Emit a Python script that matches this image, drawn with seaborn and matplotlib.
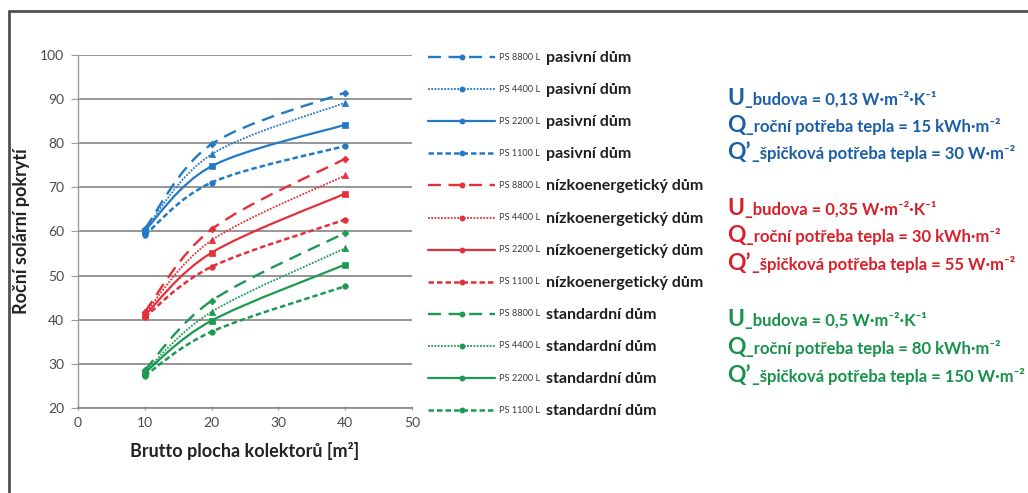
import matplotlib
matplotlib.use("Agg")
import matplotlib.pyplot as plt
from matplotlib.path import Path
from matplotlib.patches import PathPatch
from matplotlib.lines import Line2D
import seaborn as sns
import pandas as pd

sns.set_theme(style="white")
plt.rcParams["font.family"] = ["Lato", "DejaVu Sans"]

# ---- data -------------------------------------------------------------
area = [10, 20, 40]  # brutto plocha kolektorů [m2]
tanks = ["PS 8800 L", "PS 4400 L", "PS 2200 L", "PS 1100 L"]
houses = ["pasivní dům", "nízkoenergetický dům", "standardní dům"]

pasivni_8800 = [60.6, 79.8, 91.5]
pasivni_4400 = [60.4, 77.5, 89.2]
pasivni_2200 = [60.2, 74.8, 84.2]
pasivni_1100 = [59.2, 71.1, 79.4]

nizko_8800 = [41.8, 60.5, 76.5]
nizko_4400 = [41.4, 58.0, 72.7]
nizko_2200 = [41.0, 55.2, 68.6]
nizko_1100 = [40.6, 52.0, 62.7]

standard_8800 = [28.6, 44.3, 59.7]
standard_4400 = [28.2, 41.8, 56.2]
standard_2200 = [28.0, 39.8, 52.5]
standard_1100 = [27.3, 37.3, 47.6]

series = {
    "pasivní dům": [pasivni_8800, pasivni_4400, pasivni_2200, pasivni_1100],
    "nízkoenergetický dům": [nizko_8800, nizko_4400, nizko_2200, nizko_1100],
    "standardní dům": [standard_8800, standard_4400, standard_2200, standard_1100],
}

info_lines = {
    "pasivní dům": [("U", "_budova = 0,13 W·m⁻²·K⁻¹"),
                    ("Q", "_roční potřeba tepla = 15 kWh·m⁻²"),
                    ("Q’", "_špičková potřeba tepla = 30 W·m⁻²")],
    "nízkoenergetický dům": [("U", "_budova = 0,35 W·m⁻²·K⁻¹"),
                             ("Q", "_roční potřeba tepla = 30 kWh·m⁻²"),
                             ("Q’", "_špičková potřeba tepla = 55 W·m⁻²")],
    "standardní dům": [("U", "_budova = 0,5 W·m⁻²·K⁻¹"),
                       ("Q", "_roční potřeba tepla = 80 kWh·m⁻²"),
                       ("Q’", "_špičková potřeba tepla = 150 W·m⁻²")],
}

# ---- styles -----------------------------------------------------------
line_colors = {"pasivní dům": "#2379c4", "nízkoenergetický dům": "#e3303a",
               "standardní dům": "#1c9a52"}
text_colors = {"pasivní dům": "#1b5ea8", "nízkoenergetický dům": "#d91f2a",
               "standardní dům": "#17924a"}
tank_styles = {
    "PS 8800 L": dict(ls=(0, (5.5, 3.2)), lw=1.7, marker="D", ms=3.5),
    "PS 4400 L": dict(ls=(0, (1.0, 0.8)), lw=1.3, marker="^", ms=4.5),
    "PS 2200 L": dict(ls="-", lw=1.6, marker="s", ms=4.0),
    "PS 1100 L": dict(ls=(0, (2.2, 1.2)), lw=1.8, marker="o", ms=4.0),
}

W, H = 1028, 493
fig = plt.figure(figsize=(W / 100, H / 100), dpi=100)
renderer = fig.canvas.get_renderer()


def fx(px):
    return px / W


def fy(py):
    return 1 - py / H


ax = fig.add_axes([fx(78), fy(408), fx(412) - fx(78), fy(55) - fy(408)])


def smooth_path(xs, ys):
    """Cubic Bezier through the points (Catmull-Rom style smoothed line)."""
    pts = list(zip(xs, ys))
    n = len(pts)
    verts = [pts[0]]
    codes = [Path.MOVETO]
    for i in range(n - 1):
        p0 = pts[i - 1] if i > 0 else pts[i]
        p1, p2 = pts[i], pts[i + 1]
        p3 = pts[i + 2] if i + 2 < n else pts[i + 1]
        c1 = (p1[0] + (p2[0] - p0[0]) / 6, p1[1] + (p2[1] - p0[1]) / 6)
        c2 = (p2[0] - (p3[0] - p1[0]) / 6, p2[1] - (p3[1] - p1[1]) / 6)
        verts += [c1, c2, p2]
        codes += [Path.CURVE4] * 3
    return Path(verts, codes)


for house, rows in series.items():
    col = line_colors[house]
    for tank, vals in zip(tanks, rows):
        st = tank_styles[tank]
        patch = PathPatch(smooth_path(area, vals), fill=False, edgecolor=col,
                          linewidth=st["lw"], linestyle=st["ls"], zorder=3,
                          capstyle="butt")
        ax.add_patch(patch)
        df = pd.DataFrame({"x": area, "y": vals})
        sns.scatterplot(data=df, x="x", y="y", ax=ax, marker=st["marker"],
                        s=st["ms"] ** 2, color=col, edgecolor=col,
                        linewidth=0.5, zorder=4, legend=False)

ax.set_xlim(0, 50)
ax.set_ylim(20, 100)
ax.set_xticks(range(0, 51, 10))
ax.set_yticks(range(20, 101, 10))
ax.yaxis.grid(True, color="#8d8d8d", linewidth=1.3)
ax.xaxis.grid(False)
ax.set_axisbelow(True)
for s in ("top", "right"):
    ax.spines[s].set_visible(False)
ax.spines["left"].set_color("#9a9a9a")
ax.spines["left"].set_linewidth(1.0)
ax.spines["bottom"].set_color("#8d8d8d")
ax.spines["bottom"].set_linewidth(1.3)
ax.tick_params(axis="y", left=True, length=5, width=0.8, color="#9a9a9a",
               labelsize=10, labelcolor="#4a4a4a", pad=5)
ax.tick_params(axis="x", bottom=True, length=3, width=0.8, color="#9a9a9a",
               direction="inout", labelsize=10, labelcolor="#4a4a4a", pad=5)
ax.set_xlabel("Brutto plocha kolektorů [m²]", fontsize=13, fontweight="bold",
              color="#222222", labelpad=9)
ax.set_ylabel("Roční solární pokrytí", fontsize=13, fontweight="bold",
              color="#222222", labelpad=7)
ax.set_facecolor("white")

# ---- legend rows --------------------------------------------------------
row_y = 57
for house in houses:
    col = line_colors[house]
    for tank in tanks:
        st = tank_styles[tank]
        fig.add_artist(Line2D([fx(428), fx(495)], [fy(row_y)] * 2,
                              transform=fig.transFigure, color=col,
                              linewidth=st["lw"], linestyle=st["ls"]))
        fig.add_artist(Line2D([fx(461.5)], [fy(row_y)],
                              transform=fig.transFigure, color=col,
                              marker="o", markersize=3.2, linestyle="none"))
        lab = fig.text(fx(499), fy(row_y), tank, fontsize=8, color="#3a3a3a",
                       va="center", ha="left")
        # keep the tank label within its 41 px slot
        width = lab.get_window_extent(renderer).width
        if width > 41:
            lab.set_fontsize(8 * 41 / width)
        fig.text(fx(546), fy(row_y + 1), house, fontsize=11.5,
                 fontweight="bold", color="#1e1e1e", va="center", ha="left")
        row_y += 32.1

# ---- building parameters -----------------------------------------------
block_y = {"pasivní dům": [97, 124, 151],
           "nízkoenergetický dům": [207, 234, 262],
           "standardní dům": [318, 346, 374]}
for house in houses:
    col = text_colors[house]
    for (big, rest), y in zip(info_lines[house], block_y[house]):
        t = fig.text(fx(727), fy(y + 8), big, fontsize=16.5, fontweight="bold",
                     color=col, va="baseline", ha="left")
        bb = t.get_window_extent(renderer)
        fig.text(fx(bb.x1 + 1), fy(y + 8), rest, fontsize=12,
                 fontweight="bold", color=col, va="baseline", ha="left")

# outer frame (top and left edges)
fig.add_artist(Line2D([fx(8.5), 1], [fy(11), fy(11)], transform=fig.transFigure,
                      color="#505050", linewidth=2))
fig.add_artist(Line2D([fx(8.5), fx(8.5)], [fy(11), 0], transform=fig.transFigure,
                      color="#505050", linewidth=2))

fig.savefig("out.png", dpi=100, facecolor="white")
